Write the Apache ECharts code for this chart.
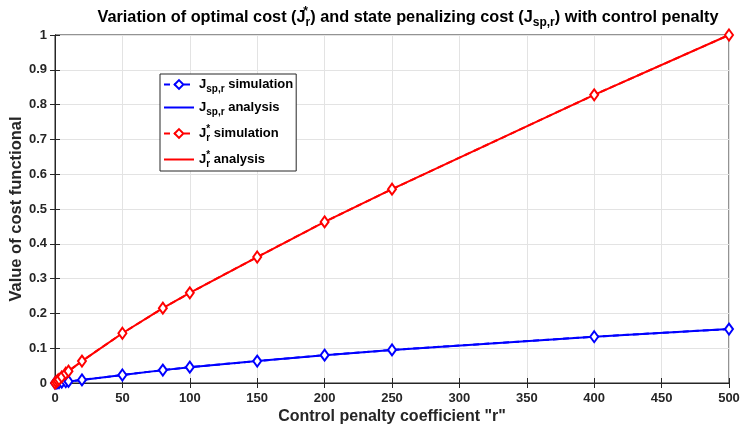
<!DOCTYPE html>
<html>
<head>
<meta charset="utf-8">
<script src="https://cdn.jsdelivr.net/npm/echarts@6/dist/echarts.min.js"></script>
<style>
  html, body { margin: 0; padding: 0; background: #fff; }
  #chart { width: 742px; height: 430px; }
</style>
</head>
<body>
<div id="chart"></div>
<script>
// control penalty r
const rValues = [0, 1, 2, 3, 5, 8, 10, 20, 50, 80, 100, 150, 200, 250, 400, 500];
// state penalizing cost J_sp,r
const jspSim = [0, 0.0005, 0.001, 0.0014, 0.0023, 0.0037, 0.0045, 0.0088, 0.023, 0.037, 0.0455, 0.063, 0.080, 0.095, 0.133, 0.155];
const jspAna = [0, 0.0005, 0.001, 0.0014, 0.0023, 0.0037, 0.0045, 0.0088, 0.023, 0.037, 0.0455, 0.063, 0.080, 0.095, 0.133, 0.155];
// optimal cost J_r*
const jrSim = [0, 0.0036, 0.0072, 0.0106, 0.0176, 0.028, 0.034, 0.063, 0.143, 0.215, 0.259, 0.362, 0.463, 0.557, 0.828, 1.0];
const jrAna = [0, 0.0036, 0.0072, 0.0106, 0.0176, 0.028, 0.034, 0.063, 0.143, 0.215, 0.259, 0.362, 0.463, 0.557, 0.828, 1.0];

const FONT = "'Liberation Sans', Arial, sans-serif";
const AXIS = "#262626";

const pairs = (ys) => rValues.map((r, i) => [r, ys[i]]);

const legendText = {
  jspSim: "{m|J}{sub|sp,r}{m| simulation}",
  jspAna: "{m|J}{sub|sp,r}{m| analysis}",
  jrSim: "{m|J}{sup|*}{sub|r}{m| simulation}",
  jrAna: "{m|J}{sup|*}{sub|r}{m| analysis}"
};

const richStyle = {
  m: { fontSize: 13, fontWeight: "bold", fontFamily: FONT, color: "#000" },
  sub: { fontSize: 10, fontWeight: "bold", fontFamily: FONT, color: "#000", padding: [9, 0, 0, 0] },
  sup: { fontSize: 10, fontWeight: "bold", fontFamily: FONT, color: "#000", padding: [0, 0, 9, 0], width: 0 }
};

const chart = echarts.init(document.getElementById("chart"), null, { renderer: "canvas" });

const simSeries = (name, ys, color) => ({
  name,
  type: "line",
  data: pairs(ys),
  symbol: "emptyDiamond",
  symbolSize: [8, 11],
  showSymbol: true,
  lineStyle: { color, width: 2, type: [6, 4] },
  itemStyle: { color, borderColor: color, borderWidth: 1.8 },
  z: 3
});

const anaSeries = (name, ys, color) => ({
  name,
  type: "line",
  data: pairs(ys),
  symbol: "none",
  lineStyle: { color, width: 2 },
  itemStyle: { color },
  z: 2
});

chart.setOption({
  animation: false,
  backgroundColor: "#fff",
  title: {
    text: "{m|Variation of optimal cost (J}{sup|*}{sub|r}{m|) and state penalizing cost (J}{sub|sp,r}{m|) with control penalty}",
    left: 403,
    textAlign: "center",
    top: 1,
    textStyle: {
      rich: {
        m: { fontSize: 16.3, fontWeight: "bold", fontFamily: FONT, color: "#000" },
        sub: { fontSize: 12, fontWeight: "bold", fontFamily: FONT, color: "#000", padding: [11, 0, 0, 0] },
        sup: { fontSize: 12, fontWeight: "bold", fontFamily: FONT, color: "#000", padding: [0, 0, 11, 0], width: 0 }
      }
    }
  },
  grid: {
    left: 55, right: 13, top: 35, bottom: 47,
    outerBoundsMode: "none",
    show: true, borderColor: AXIS, borderWidth: 1
  },
  legend: {
    orient: "vertical",
    left: 160,
    top: 74,
    backgroundColor: "#fff",
    borderColor: AXIS,
    borderWidth: 1,
    borderRadius: 0,
    padding: [4, 3, 2, 3],
    itemWidth: 30,
    itemHeight: 11,
    itemGap: 7,
    data: [
      { name: "jspSim" },
      { name: "jspAna", itemStyle: { opacity: 0 } },
      { name: "jrSim" },
      { name: "jrAna", itemStyle: { opacity: 0 } }
    ],
    formatter: (name) => legendText[name],
    textStyle: { rich: richStyle }
  },
  xAxis: [
    {
      type: "value",
      min: 0,
      max: 500,
      interval: 50,
      name: 'Control penalty coefficient "r"',
      nameLocation: "middle",
      nameGap: 26,
      nameMoveOverlap: false,
      nameTextStyle: { fontSize: 16, fontWeight: "bold", fontFamily: FONT, color: AXIS },
      axisLine: { lineStyle: { color: AXIS } },
      axisTick: { inside: true, length: 5, lineStyle: { color: AXIS } },
      axisLabel: { fontSize: 13, fontWeight: "bold", fontFamily: FONT, color: AXIS, margin: 9 },
      splitLine: { show: true, lineStyle: { color: "#e3e3e3" } }
    },
    {
      type: "value",
      position: "top",
      min: 0,
      max: 500,
      interval: 50,
      axisLine: { lineStyle: { color: AXIS } },
      axisTick: { inside: true, length: 5, lineStyle: { color: AXIS } },
      axisLabel: { show: false },
      splitLine: { show: false }
    }
  ],
  yAxis: [
    {
      type: "value",
      min: 0,
      max: 1,
      interval: 0.1,
      name: "Value of cost functional",
      nameLocation: "middle",
      nameGap: 30,
      nameMoveOverlap: false,
      nameTextStyle: { fontSize: 16.5, fontWeight: "bold", fontFamily: FONT, color: AXIS },
      axisLine: { lineStyle: { color: AXIS } },
      axisTick: { inside: true, length: 5, lineStyle: { color: AXIS } },
      axisLabel: { fontSize: 13, fontWeight: "bold", fontFamily: FONT, color: AXIS, margin: 8 },
      splitLine: { show: true, lineStyle: { color: "#e3e3e3" } }
    },
    {
      type: "value",
      position: "right",
      min: 0,
      max: 1,
      interval: 0.1,
      axisLine: { lineStyle: { color: AXIS } },
      axisTick: { inside: true, length: 5, lineStyle: { color: AXIS } },
      axisLabel: { show: false },
      splitLine: { show: false }
    }
  ],
  series: [
    simSeries("jspSim", jspSim, "#0000ff"),
    anaSeries("jspAna", jspAna, "#0000ff"),
    simSeries("jrSim", jrSim, "#ff0000"),
    anaSeries("jrAna", jrAna, "#ff0000")
  ]
});
</script>
</body>
</html>
